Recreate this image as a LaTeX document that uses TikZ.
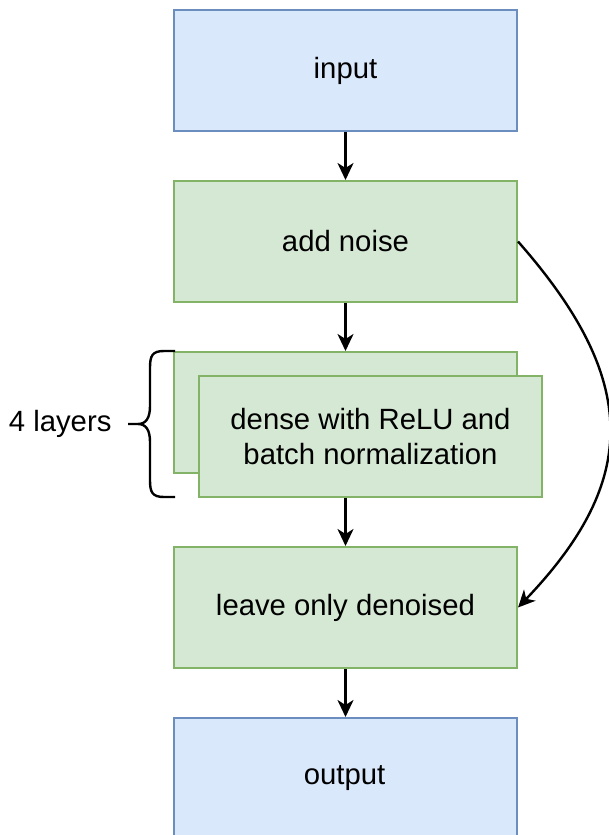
\documentclass[tikz,border=0pt]{standalone}
\usepackage{fontspec}
\setmainfont{Liberation Sans}
\usetikzlibrary{arrows.meta}
\definecolor{bluefill}{HTML}{DAE8FC}
\definecolor{bluedraw}{HTML}{6C8EBF}
\definecolor{greenfill}{HTML}{D5E8D4}
\definecolor{greendraw}{HTML}{82B366}
\begin{document}
\begin{tikzpicture}[x=1pt,y=-1pt,
  font=\fontsize{29.3}{35}\selectfont,
  box/.style={draw, line width=2pt, minimum width=343pt, minimum height=121pt, inner sep=0pt, align=center, anchor=north west},
  bluebox/.style={box, fill=bluefill, draw=bluedraw},
  greenbox/.style={box, fill=greenfill, draw=greendraw},
  conn/.style={line width=2.4pt, -{Stealth[length=17pt,width=16pt,inset=5pt]}}]
\useasboundingbox (0,0) rectangle (608,835);
\begin{scope}
\clip (0,0) rectangle (608,835);
\node[bluebox] (in) at (173,9) {input};
\node[greenbox] (noise) at (173,180) {add noise};
\node[greenbox] (back) at (173,351) {};
\node[greenbox] (dense) at (198,375) {dense with ReLU and\\batch normalization};
\node[greenbox] (leave) at (173,546) {leave only denoised};
\node[bluebox, minimum height=130pt] (out) at (173,717) {};
\node (outlbl) at (344.5,778) {output};
\end{scope}
\draw[conn] (in.south) -- (noise.north);
\draw[conn] (noise.south) -- (back.north);
\draw[conn] (dense.south -| back.south) -- (leave.north);
\draw[conn] (leave.south) -- (out.north);
\draw[conn] (noise.east) .. controls (640,380) and (640,480) .. (leave.east);
% brace
\coordinate (bt) at (175,351);
\coordinate (bb) at (175,497);
\coordinate (tip) at (128,424);
\draw[line width=2.4pt, line join=round]
  (bt) -- (164,351) .. controls (152,351) and (150,356) .. (150,368)
  -- (150,406) .. controls (150,418) and (146,424) .. (138,424) -- (tip)
  (138,424) .. controls (146,424) and (150,430) .. (150,442)
  -- (150,480) .. controls (150,492) and (152,497) .. (164,497) -- (bb);
\node[anchor=east] (lbl) at (115,424) {4 layers};
\end{tikzpicture}
\end{document}
